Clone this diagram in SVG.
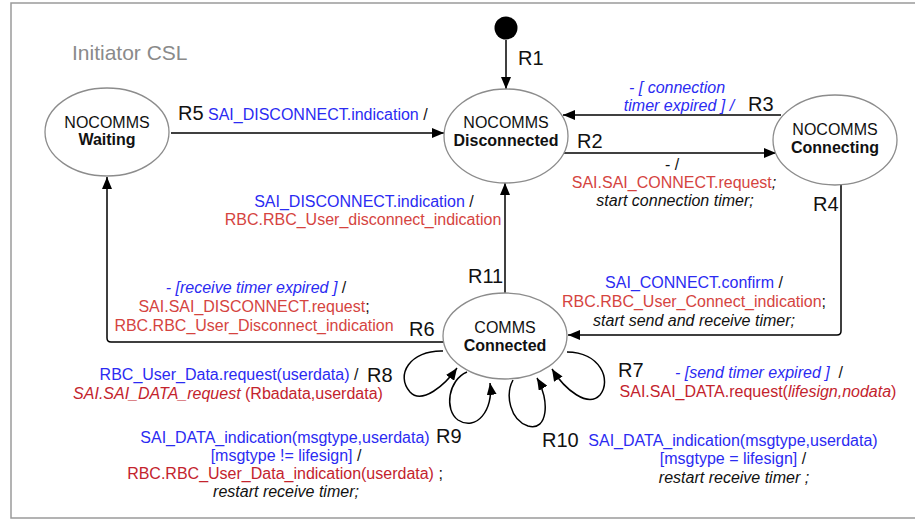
<svg xmlns="http://www.w3.org/2000/svg" width="915" height="521" viewBox="0 0 915 521">
  <defs>
    <marker id="arrow" viewBox="0 0 12 10" refX="12" refY="5" markerWidth="12" markerHeight="10" markerUnits="userSpaceOnUse" orient="auto">
      <path d="M0,0 L12,5 L0,10 z" fill="#000"/>
    </marker>
    <style>
      text { font-family: "Liberation Sans", Arial, Helvetica, sans-serif; font-size: 16px; fill: #111; }
      .state { fill: #fff; stroke: #8c8c8c; stroke-width: 1.3; }
      .name { text-anchor: middle; }
      .b { font-weight: bold; }
      .rl { font-size: 20px; }
      .c { text-anchor: middle; }
      .blue { fill: #2b2bf2; }
      .red { fill: #d5443f; }
      .dred { fill: #c3232d; }
      .blk { fill: #111; }
      .it { font-style: italic; }
      .edge { fill: none; stroke: #000; stroke-width: 1.5; marker-end: url(#arrow); }
    </style>
  </defs>

  <rect width="915" height="521" fill="#fff"/>
  <!-- enclosing frame, open to the right -->
  <rect x="11" y="3" width="930" height="515" fill="none" stroke="#9a9a9a" stroke-width="1.5"/>
  <text x="72" y="60" style="font-size:21px;fill:#8a8a8a">Initiator CSL</text>

  <!-- transitions -->
  <g id="connectors">
    <path id="r1" class="edge" d="M506,40 L506,89"/>
    <path id="r5" class="edge" d="M171,133 L444,133"/>
    <path id="r3" class="edge" d="M781,115 L563,115"/>
    <path id="r2" class="edge" d="M564,153 L776,153"/>
    <path id="r4" class="edge" d="M841,184 L841,331 Q841,335 837,335 L568,335"/>
    <path id="r11" class="edge" d="M505,293 L505,183"/>
    <path id="r6" class="edge" d="M444,342 L111,342 Q107,342 107,338 L107,177"/>
    <path id="r8" class="edge" d="M443,351 C410,350 395,375 410,392 C422,405 445,385 457,368"/>
    <path id="r9" class="edge" d="M467,372 C448,380 444,410 458,420 C476,432 494,410 490,383"/>
    <path id="r10" class="edge" d="M513,380 C505,395 510,420 528,426 C548,432 550,400 537,378"/>
    <path id="r7" class="edge" d="M567,352 C600,352 612,380 600,395 C588,408 565,390 552,369"/>
  </g>

  <!-- initial pseudo-state -->
  <g id="initial">
    <circle cx="506" cy="28" r="11.5" fill="#000"/>
  </g>

  <!-- states -->
  <g id="nocomms-waiting">
    <ellipse class="state" cx="107" cy="132" rx="62" ry="44"/>
    <text class="name" x="107" y="128">NOCOMMS</text>
    <text class="name b" x="107" y="145">Waiting</text>
  </g>
  <g id="nocomms-disconnected">
    <ellipse class="state" cx="506" cy="136" rx="62" ry="47"/>
    <text class="name" x="506" y="128">NOCOMMS</text>
    <text class="name b" x="506" y="146">Disconnected</text>
  </g>
  <g id="nocomms-connecting">
    <ellipse class="state" cx="835" cy="140" rx="62" ry="45"/>
    <text class="name" x="835" y="135">NOCOMMS</text>
    <text class="name b" x="835" y="153">Connecting</text>
  </g>
  <g id="comms-connected">
    <ellipse class="state" cx="505" cy="336" rx="62" ry="43"/>
    <text class="name" x="505" y="333">COMMS</text>
    <text class="name b" x="505" y="351">Connected</text>
  </g>

  <!-- transition labels -->
  <g id="labels">
    <text class="rl" x="518" y="65">R1</text>

    <text class="rl" x="178" y="120">R5</text>
    <text x="208" y="120"><tspan class="blue">SAI_DISCONNECT.indication</tspan><tspan class="blk"> /</tspan></text>

    <text class="c blue it" x="677" y="93">- [ connection</text>
    <text class="c blue it" x="679" y="111">timer expired ] /</text>
    <text class="rl" x="748" y="111">R3</text>

    <text class="rl" x="577" y="148">R2</text>
    <text class="c" x="672" y="170">- /</text>
    <text class="c" x="674" y="188"><tspan class="red">SAI.SAI_CONNECT.request</tspan><tspan class="blk it">;</tspan></text>
    <text class="c it" x="675" y="206">start connection timer;</text>

    <text class="rl" x="813" y="211">R4</text>
    <text class="c" x="694" y="288"><tspan class="blue">SAI_CONNECT.confirm</tspan><tspan class="blk"> /</tspan></text>
    <text class="c" x="694" y="307"><tspan class="red">RBC.RBC_User_Connect_indication</tspan><tspan class="blk">;</tspan></text>
    <text class="c it" x="694" y="326">start send and receive timer;</text>

    <text class="rl" x="468" y="283">R11</text>
    <text class="c" x="364" y="207"><tspan class="blue">SAI_DISCONNECT.indication</tspan><tspan class="blk"> /</tspan></text>
    <text class="c red" x="363" y="225">RBC.RBC_User_disconnect_indication</text>

    <text class="rl" x="409" y="336">R6</text>
    <text class="c" x="256" y="293"><tspan class="blue it">- [receive timer expired ]</tspan><tspan class="blk"> /</tspan></text>
    <text class="c" x="254" y="312"><tspan class="red">SAI.SAI_DISCONNECT.request</tspan><tspan class="blk">;</tspan></text>
    <text class="c red" x="254" y="331">RBC.RBC_User_Disconnect_indication</text>

    <text class="rl" x="367" y="382">R8</text>
    <text class="c" x="229" y="380"><tspan class="blue">RBC_User_Data.request(userdata)</tspan><tspan class="blk"> /</tspan></text>
    <text class="c dred" x="228" y="399"><tspan class="it">SAI.SAI_DATA_request</tspan> (Rbadata,userdata)</text>

    <text class="rl" x="436" y="443">R9</text>
    <text class="c blue" x="285" y="443">SAI_DATA_indication(msgtype,userdata)</text>
    <text class="c" x="286" y="461"><tspan class="blue">[msgtype != lifesign]</tspan><tspan class="blk"> /</tspan></text>
    <text class="c" x="285" y="479"><tspan class="dred">RBC.RBC_User_Data_indication(userdata)</tspan><tspan class="blk"> ;</tspan></text>
    <text class="c it" x="286" y="497">restart receive timer;</text>

    <text class="rl" x="542" y="447">R10</text>
    <text class="c blue" x="733" y="446">SAI_DATA_indication(msgtype,userdata)</text>
    <text class="c" x="733" y="464"><tspan class="blue">[msgtype = lifesign]</tspan><tspan class="blk"> /</tspan></text>
    <text class="c it" x="734" y="483">restart receive timer ;</text>

    <text class="rl" x="618" y="377">R7</text>
    <text class="c" x="759" y="378"><tspan class="blue it">- [send timer expired ]</tspan><tspan class="blk" xml:space="preserve">  /</tspan></text>
    <text class="c dred" x="758" y="397">SAI.SAI_DATA.request(<tspan class="it">lifesign,nodata</tspan>)</text>
  </g>
</svg>
